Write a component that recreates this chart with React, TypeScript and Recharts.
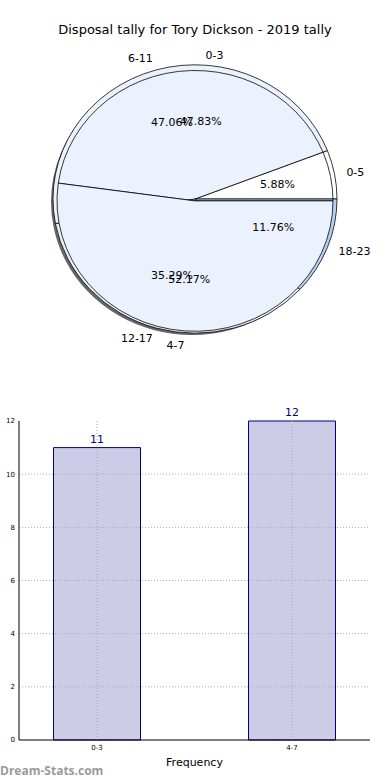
import React from "react";
import {
  PieChart, Pie, Cell, BarChart, Bar, XAxis, YAxis, ReferenceLine, Label, LabelList,
} from "recharts";

// quarter-by-quarter disposal tally (pie B)
const quarterNames = ["0-5", "6-11", "12-17", "18-23"];
const quarterCounts = [1, 8, 6, 2];
const quarterFills = ["#ffffff", "#ebf1fd", "#ebf1fd", "#b4d0f5"];

// frequency buckets (pie A and bars)
const bucketNames = ["0-3", "4-7"];
const bucketCounts = [11, 12];

const yTicks = [0, 2, 4, 6, 8, 10, 12];
const xTicks = [0, 1];

const font = "'DejaVu Sans', sans-serif";

const quarterData = quarterNames.map((name, i) => ({ name, value: quarterCounts[i] }));
const bucketData = bucketNames.map((name, i) => ({ name, value: bucketCounts[i] }));
const barData = bucketNames.map((name, i) => ({ x: i, name, value: bucketCounts[i] }));

const RAD = Math.PI / 180;
const BASE_R = 140;

function pieLabel(props: any) {
  const { cx, cy, midAngle, percent, name } = props;
  const cos = Math.cos(-midAngle * RAD);
  const sin = Math.sin(-midAngle * RAD);
  const lx = cx + BASE_R * 1.1 * cos;
  const ly = cy + BASE_R * 1.1 * sin;
  const px = cx + BASE_R * 0.6 * cos;
  const py = cy + BASE_R * 0.6 * sin;
  return (
    <g style={{ fontFamily: font, fontSize: 11 }}>
      <text x={lx} y={ly} fill="#000" textAnchor={cos > 0 ? "start" : "end"} dominantBaseline="central">
        {name}
      </text>
      <text x={px} y={py} fill="#000" textAnchor="middle" dominantBaseline="central">
        {(percent * 100).toFixed(2)}%
      </text>
    </g>
  );
}

const gridStyle = { stroke: "#aaa", strokeDasharray: "1 2", strokeWidth: 1 };

export default function App() {
  return (
    <div style={{ position: "absolute", left: 0, top: 0, width: 390, height: 780, background: "#fff", fontFamily: font }}>
      <div style={{ position: "absolute", top: 22, left: 0, width: 390, textAlign: "center", fontSize: 13, color: "#000" }}>
        Disposal tally for Tory Dickson - 2019 tally
      </div>

      {/* matplotlib drew the pie slightly squashed; scale vertically to match */}
      <div style={{ position: "absolute", top: 0, left: 0, transform: "scaleY(0.945)", transformOrigin: "195px 199px" }}>
        <PieChart width={390} height={390} margin={{ top: 0, right: 0, bottom: 0, left: 0 }}>
          {/* shadow */}
          <Pie data={quarterData} dataKey="value" nameKey="name" cx={192} cy={202} outerRadius={141}
            startAngle={0} endAngle={360} fill="#666" stroke="none" isAnimationActive={false} />
          <Pie data={quarterData} dataKey="value" nameKey="name" cx={195} cy={199} outerRadius={142}
            startAngle={0} endAngle={360} stroke="#000" strokeWidth={0.8}
            label={pieLabel} labelLine={false} isAnimationActive={false}>
            {quarterData.map((d, i) => (
              <Cell key={d.name} fill={quarterFills[i]} />
            ))}
          </Pie>
          <Pie data={bucketData} dataKey="value" nameKey="name" cx={195} cy={201} outerRadius={138}
            startAngle={0} endAngle={360} stroke="#000" strokeWidth={0.8}
            label={pieLabel} labelLine={false} isAnimationActive={false}>
            {bucketData.map((d, i) => (
              <Cell key={d.name} fill={i === 0 ? "none" : "#ebf1fd"} />
            ))}
          </Pie>
        </PieChart>
      </div>

      <div style={{ position: "absolute", top: 400, left: 0 }}>
        <BarChart width={390} height={380} data={barData} margin={{ top: 21, right: 20, left: 0, bottom: 10 }}>
          <XAxis type="number" dataKey="x" domain={[-0.4, 1.4]} ticks={xTicks} allowDataOverflow
            tickFormatter={(v: number) => bucketNames[v]} height={30} tickLine={false} tickSize={2}
            axisLine={{ stroke: "#000" }} tick={{ fontSize: 7, fill: "#000" }} tickMargin={3}>
            <Label value="Frequency" position="insideBottom" offset={4} style={{ fontSize: 11, fill: "#000" }} />
          </XAxis>
          <XAxis xAxisId="top" orientation="top" type="number" domain={[-0.4, 1.4]} ticks={[]}
            height={0} axisLine={{ stroke: "#000" }} tickLine={false} tick={false} />
          <YAxis domain={[0, 12]} ticks={yTicks} width={19} tickLine={false} tickSize={2}
            axisLine={{ stroke: "#000" }} tick={{ fontSize: 7, fill: "#000" }} tickMargin={2} interval={0}>
            <Label value="Stat Interval" angle={-90} position="insideLeft" offset={-7} style={{ fontSize: 9, fill: "#000" }} />
          </YAxis>
          <YAxis yAxisId="right" orientation="right" domain={[0, 12]} ticks={[]} width={0}
            axisLine={{ stroke: "#000" }} tickLine={false} tick={false} />
          <Bar dataKey="value" barSize={87} fill="#cccce6" stroke="#000080" strokeWidth={1} isAnimationActive={false}>
            <LabelList dataKey="value" position="top" offset={5} style={{ fontSize: 11, fill: "#000080" }} />
          </Bar>
          {yTicks.slice(1, -1).map((t) => (
            <ReferenceLine key={"y" + t} y={t} {...gridStyle} />
          ))}
          {xTicks.map((t) => (
            <ReferenceLine key={"x" + t} x={t} {...gridStyle} />
          ))}
        </BarChart>
      </div>

      <div style={{ position: "absolute", left: 0, top: 762, fontSize: 12, fontWeight: "bold", color: "#9a9a9a", fontFamily: "'Open Sans', sans-serif" }}>
        Dream-Stats.com
      </div>
    </div>
  );
}
